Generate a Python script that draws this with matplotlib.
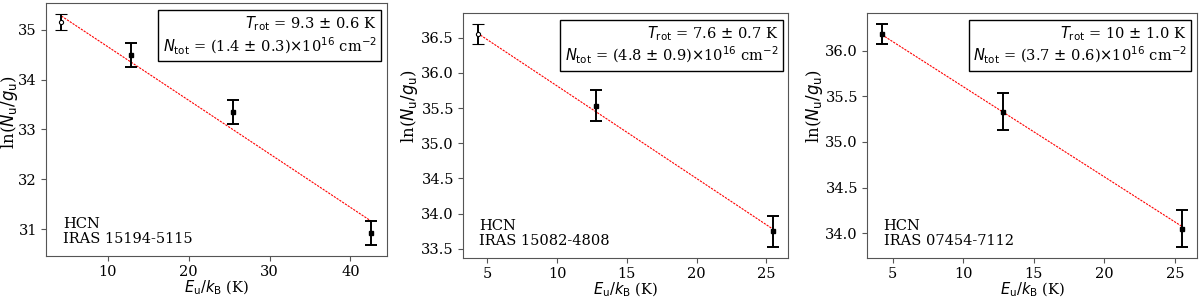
import numpy as np
import matplotlib
matplotlib.use('Agg')
import matplotlib.pyplot as plt

plt.rcParams['font.family'] = 'DejaVu Serif'
plt.rcParams['mathtext.fontset'] = 'dejavusans'

# Rotation diagram data for HCN in three sources
names = ['IRAS 15194-5115', 'IRAS 15082-4808', 'IRAS 07454-7112']
eu1 = [4.25, 12.8, 25.5, 42.6]
lnN1 = [35.15, 34.50, 33.36, 30.93]
err1 = [0.16, 0.24, 0.24, 0.24]
eu2 = [4.3, 12.8, 25.5]
lnN2 = [36.55, 35.53, 33.75]
err2 = [0.14, 0.22, 0.22]
eu3 = [4.25, 12.8, 25.5]
lnN3 = [36.18, 35.33, 34.05]
err3 = [0.11, 0.20, 0.20]
open_first = [True, True, False]
trot_txt = ['9.3 $\\pm$ 0.6', '7.6 $\\pm$ 0.7', '10 $\\pm$ 1.0']
ntot_txt = ['(1.4 $\\pm$ 0.3)', '(4.8 $\\pm$ 0.9)', '(3.7 $\\pm$ 0.6)']
# fitted lines (intercept, slope)
fit_b = [35.735, 37.123, 36.593]
fit_m = [-0.1075, -0.1311, -0.0988]

xs = [eu1, eu2, eu3]
ys = [lnN1, lnN2, lnN3]
es = [err1, err2, err3]

fig = plt.figure(figsize=(12, 2.97), dpi=100)
rects = [[0.0383, 0.138, 0.2842, 0.852],
         [0.3858, 0.1313, 0.2708, 0.825],
         [0.7225, 0.1313, 0.275, 0.825]]
ylab_pos = [(-0.075, 0.57), (-0.132, 0.62), (-0.127, 0.62)]

for i in range(3):
    ax = fig.add_axes(rects[i])
    x = np.array(xs[i])
    y = np.array(ys[i])
    e = np.array(es[i])
    xx = np.array([x.min(), x.max()])
    ax.plot(xx, fit_b[i] + fit_m[i] * xx, color='red', ls='--', lw=0.8,
            dashes=(2, 1), zorder=1)
    start = 1 if open_first[i] else 0
    if open_first[i]:
        ax.errorbar(x[:1], y[:1], yerr=e[:1], fmt='o', ms=3, mfc='white',
                    mec='black', mew=0.8, ecolor='black', elinewidth=1.4,
                    capsize=4, capthick=1.4, zorder=2)
    ax.errorbar(x[start:], y[start:], yerr=e[start:], fmt='s', ms=3.5,
                color='black', ecolor='black', elinewidth=1.4, capsize=4,
                capthick=1.4, zorder=2)
    ax.text(0.97, 0.955,
            '$T_\\mathrm{rot}$ = ' + trot_txt[i] + ' K\n'
            '$N_\\mathrm{tot}$ = ' + ntot_txt[i] + '$\\times$10$^{16}$ cm$^{-2}$',
            transform=ax.transAxes, ha='right', va='top', multialignment='right',
            fontsize=10.5, linespacing=1.15,
            bbox=dict(boxstyle='square,pad=0.3', fc='white', ec='black', lw=1))
    ax.text(0.05, 0.04, 'HCN\n' + names[i], transform=ax.transAxes,
            ha='left', va='bottom', fontsize=10.5, linespacing=1.1)
    ax.set_xlabel('$E_\\mathrm{u}/k_\\mathrm{B}$ (K)', fontsize=10.5, labelpad=0)
    ax.set_ylabel('ln($N_\\mathrm{u}/g_\\mathrm{u}$)', fontsize=12)
    ax.yaxis.set_label_coords(*ylab_pos[i])
    ax.tick_params(labelsize=10.5, color='#555555', pad=3)
    for s in ax.spines.values():
        s.set_color('#555555')

fig.savefig('out.png', dpi=100)
